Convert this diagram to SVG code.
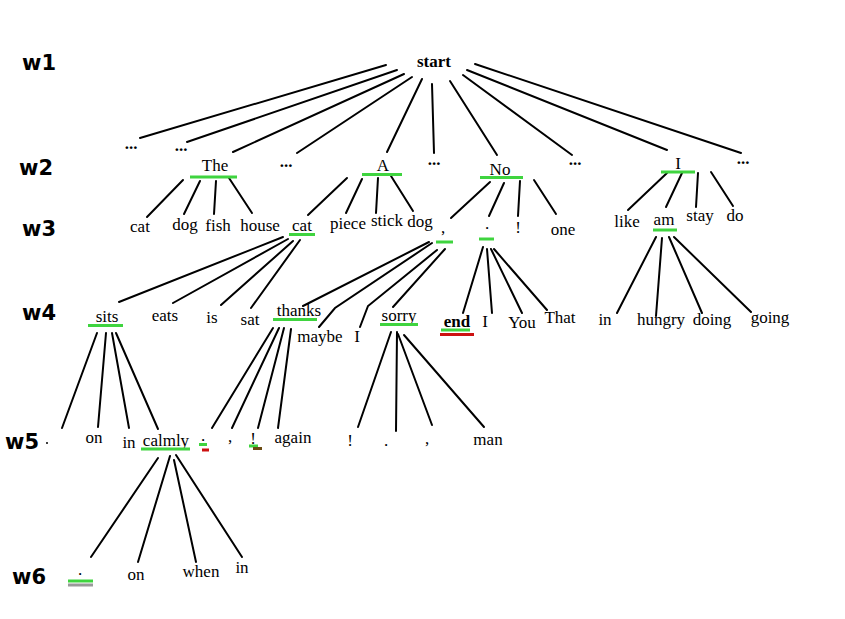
<svg xmlns="http://www.w3.org/2000/svg" width="845" height="619" viewBox="0 0 845 619">
  <style>
    .lvl { font-family: "DejaVu Sans", "Liberation Sans", sans-serif; font-weight: bold; font-size: 21px; fill: #000; }
    .w { font-family: "Liberation Serif", "Times New Roman", serif; font-size: 17px; fill: #000; text-anchor: middle; }
    .b { font-weight: bold; }
    .edge { stroke: #000; stroke-width: 2; fill: none; stroke-linecap: round; }
    .ok { stroke: #3fd43f; stroke-width: 3; }
    .bad { stroke: #cc1111; stroke-width: 3; }
    .dim { stroke: #999; stroke-width: 3; }
    .brn { stroke: #6b4a12; stroke-width: 3; }
  </style>
  <rect width="845" height="619" fill="#fff"/>

  <!-- level labels -->
  <g id="levels">
    <text class="lvl" x="22" y="70">w1</text>
    <text class="lvl" x="19" y="175">w2</text>
    <text class="lvl" x="22" y="236">w3</text>
    <text class="lvl" x="22" y="320">w4</text>
    <text class="lvl" x="5" y="449">w5</text>
    <circle cx="47" cy="443" r="1" fill="#000"/>
    <text class="lvl" x="12" y="584">w6</text>
  </g>

  <!-- connectors -->
  <g id="connectors" class="edge">
    <!-- start -> w2 -->
    <line x1="386" y1="65" x2="140" y2="138"/>
    <line x1="397" y1="70" x2="187" y2="142"/>
    <line x1="404" y1="74" x2="233" y2="152"/>
    <line x1="412" y1="77" x2="297" y2="153"/>
    <line x1="422" y1="79" x2="387" y2="152"/>
    <line x1="432" y1="84" x2="434" y2="153"/>
    <line x1="450" y1="81" x2="497" y2="155"/>
    <line x1="463" y1="75" x2="572" y2="155"/>
    <line x1="467" y1="70" x2="667" y2="150"/>
    <line x1="475" y1="64" x2="741" y2="153"/>
    <!-- The -->
    <line x1="183" y1="180" x2="147" y2="217"/>
    <line x1="200" y1="181" x2="184" y2="214"/>
    <line x1="216" y1="181" x2="214" y2="214"/>
    <line x1="229" y1="178" x2="252" y2="213"/>
    <!-- A -->
    <line x1="347" y1="178" x2="308" y2="215"/>
    <line x1="362" y1="179" x2="346" y2="213"/>
    <line x1="378" y1="178" x2="376" y2="213"/>
    <line x1="391" y1="176" x2="413" y2="211"/>
    <!-- No -->
    <line x1="490" y1="182" x2="451" y2="218"/>
    <line x1="504" y1="183" x2="489" y2="216"/>
    <line x1="520" y1="181" x2="518" y2="216"/>
    <line x1="534" y1="180" x2="556" y2="214"/>
    <!-- I -->
    <line x1="667" y1="173" x2="628" y2="210"/>
    <line x1="682" y1="173" x2="666" y2="207"/>
    <line x1="698" y1="173" x2="696" y2="207"/>
    <line x1="711" y1="172" x2="733" y2="206"/>
    <!-- cat -->
    <line x1="283" y1="237" x2="119" y2="302"/>
    <line x1="288" y1="239" x2="173" y2="303"/>
    <line x1="293" y1="241" x2="221" y2="305"/>
    <line x1="300" y1="240" x2="251" y2="308"/>
    <!-- comma -->
    <line x1="429" y1="242" x2="303" y2="306"/>
    <polyline points="432,243 335,308 319,327"/>
    <polyline points="437,250 368,306 360,327"/>
    <line x1="445" y1="249" x2="393" y2="307"/>
    <!-- period -->
    <line x1="483" y1="247" x2="463" y2="313"/>
    <line x1="487" y1="249" x2="492" y2="313"/>
    <line x1="491" y1="249" x2="522" y2="313"/>
    <line x1="494" y1="249" x2="547" y2="310"/>
    <!-- am -->
    <line x1="656" y1="237" x2="617" y2="313"/>
    <line x1="662" y1="238" x2="656" y2="316"/>
    <line x1="669" y1="237" x2="702" y2="313"/>
    <line x1="674" y1="237" x2="751" y2="312"/>
    <!-- sits -->
    <line x1="97" y1="333" x2="62" y2="428"/>
    <line x1="106" y1="333" x2="98" y2="427"/>
    <line x1="112" y1="333" x2="129" y2="428"/>
    <line x1="116" y1="333" x2="158" y2="429"/>
    <!-- thanks -->
    <line x1="273" y1="328" x2="212" y2="428"/>
    <line x1="279" y1="328" x2="232" y2="428"/>
    <line x1="284" y1="328" x2="258" y2="428"/>
    <line x1="291" y1="329" x2="278" y2="428"/>
    <!-- sorry -->
    <line x1="391" y1="332" x2="358" y2="427"/>
    <line x1="397" y1="332" x2="396" y2="431"/>
    <line x1="398" y1="334" x2="432" y2="425"/>
    <line x1="404" y1="335" x2="484" y2="427"/>
    <!-- calmly -->
    <line x1="158" y1="458" x2="91" y2="557"/>
    <line x1="170" y1="456" x2="138" y2="562"/>
    <line x1="174" y1="460" x2="196" y2="562"/>
    <line x1="176" y1="455" x2="242" y2="557"/>
  </g>

  <!-- w1 -->
  <g id="n-start"><text class="w b" x="434" y="67">start</text></g>

  <!-- w2 -->
  <g id="n-w2-more1"><text class="w b" x="131" y="149">...</text></g>
  <g id="n-w2-more2"><text class="w b" x="181" y="151">...</text></g>
  <g id="n-The"><text class="w" x="215" y="171">The</text><line class="ok" x1="190" y1="177" x2="237" y2="177"/></g>
  <g id="n-w2-more3"><text class="w b" x="286" y="167">...</text></g>
  <g id="n-A"><text class="w" x="383" y="171">A</text><line class="ok" x1="362" y1="174.5" x2="402" y2="174.5"/></g>
  <g id="n-w2-more4"><text class="w b" x="434" y="165">...</text></g>
  <g id="n-No"><text class="w" x="500" y="175">No</text><line class="ok" x1="480" y1="177.5" x2="523" y2="177.5"/></g>
  <g id="n-w2-more5"><text class="w b" x="575" y="165">...</text></g>
  <g id="n-I"><text class="w" x="678" y="169">I</text><line class="ok" x1="661" y1="172" x2="695" y2="172"/></g>
  <g id="n-w2-more6"><text class="w b" x="743" y="164">...</text></g>

  <!-- w3 -->
  <g id="n-cat-1"><text class="w" x="140" y="232">cat</text></g>
  <g id="n-dog-1"><text class="w" x="185" y="230">dog</text></g>
  <g id="n-fish"><text class="w" x="218" y="231">fish</text></g>
  <g id="n-house"><text class="w" x="260" y="231">house</text></g>
  <g id="n-cat-2"><text class="w" x="302" y="231">cat</text><line class="ok" x1="289" y1="234.5" x2="315" y2="234.5"/></g>
  <g id="n-piece"><text class="w" x="348" y="229">piece</text></g>
  <g id="n-stick"><text class="w" x="387" y="226">stick</text></g>
  <g id="n-dog-2"><text class="w" x="420" y="227">dog</text></g>
  <g id="n-comma"><text class="w" x="443" y="233">,</text><line class="ok" x1="436" y1="242" x2="453" y2="242"/></g>
  <g id="n-period"><text class="w" x="487" y="229">.</text><line class="ok" x1="479" y1="239" x2="494" y2="239"/></g>
  <g id="n-excl"><text class="w" x="518" y="233">!</text></g>
  <g id="n-one"><text class="w" x="563" y="235">one</text></g>
  <g id="n-like"><text class="w" x="627" y="227">like</text></g>
  <g id="n-am"><text class="w" x="664" y="225">am</text><line class="ok" x1="653" y1="230" x2="677" y2="230"/></g>
  <g id="n-stay"><text class="w" x="700" y="221">stay</text></g>
  <g id="n-do"><text class="w" x="735" y="221">do</text></g>

  <!-- w4 -->
  <g id="n-sits"><text class="w" x="107" y="322">sits</text><line class="ok" x1="88" y1="325.5" x2="123" y2="325.5"/></g>
  <g id="n-eats"><text class="w" x="165" y="321">eats</text></g>
  <g id="n-is"><text class="w" x="212" y="323">is</text></g>
  <g id="n-sat"><text class="w" x="250" y="325">sat</text></g>
  <g id="n-thanks"><text class="w" x="299" y="316">thanks</text><line class="ok" x1="273" y1="319.5" x2="317" y2="319.5"/></g>
  <g id="n-maybe"><text class="w" x="320" y="342">maybe</text></g>
  <g id="n-I-2"><text class="w" x="357" y="342">I</text></g>
  <g id="n-sorry"><text class="w" x="399" y="321">sorry</text><line class="ok" x1="380" y1="324.5" x2="418" y2="324.5"/></g>
  <g id="n-end"><text class="w b" x="457" y="327" font-size="18">end</text><line class="ok" x1="441" y1="330" x2="470" y2="330"/><line class="bad" x1="440" y1="334.5" x2="474" y2="334.5"/></g>
  <g id="n-I-3"><text class="w" x="485" y="327">I</text></g>
  <g id="n-You"><text class="w" x="522" y="328">You</text></g>
  <g id="n-That"><text class="w" x="560" y="323">That</text></g>
  <g id="n-in"><text class="w" x="605" y="325">in</text></g>
  <g id="n-hungry"><text class="w" x="661" y="325">hungry</text></g>
  <g id="n-doing"><text class="w" x="712" y="325">doing</text></g>
  <g id="n-going"><text class="w" x="770" y="323">going</text></g>

  <!-- w5 -->
  <g id="n-on"><text class="w" x="94" y="443">on</text></g>
  <g id="n-in-2"><text class="w" x="129" y="448">in</text></g>
  <g id="n-calmly"><text class="w" x="166" y="446">calmly</text><line class="ok" x1="141" y1="449" x2="190" y2="449"/></g>
  <g id="n-period-2"><text class="w" x="203" y="441">.</text><line class="ok" x1="199" y1="444.5" x2="207" y2="444.5"/><line class="bad" x1="202" y1="450" x2="209" y2="450"/></g>
  <g id="n-comma-2"><text class="w" x="230" y="442">,</text></g>
  <g id="n-excl-2"><text class="w" x="253" y="444">!</text><line class="ok" x1="249" y1="446" x2="258" y2="446"/><line class="brn" x1="253" y1="448.5" x2="262" y2="448.5"/></g>
  <g id="n-again"><text class="w" x="293" y="443">again</text></g>
  <g id="n-excl-3"><text class="w" x="350" y="446">!</text></g>
  <g id="n-period-3"><text class="w" x="386" y="446">.</text></g>
  <g id="n-comma-3"><text class="w" x="427" y="444">,</text></g>
  <g id="n-man"><text class="w" x="488" y="445">man</text></g>

  <!-- w6 -->
  <g id="n-period-4"><text class="w" x="80" y="575">.</text><line class="ok" x1="68" y1="581" x2="93" y2="581"/><line class="dim" x1="68" y1="585" x2="93" y2="585"/></g>
  <g id="n-on-2"><text class="w" x="136" y="580">on</text></g>
  <g id="n-when"><text class="w" x="201" y="577">when</text></g>
  <g id="n-in-3"><text class="w" x="242" y="573">in</text></g>
</svg>
